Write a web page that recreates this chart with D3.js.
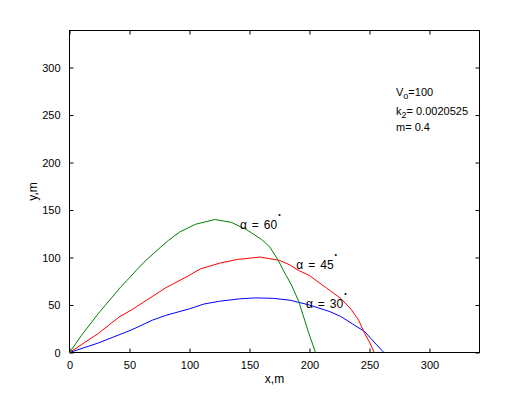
<!DOCTYPE html>
<html><head><meta charset="utf-8">
<script src="https://cdn.jsdelivr.net/npm/d3@7"></script>
<style>body{margin:0;background:#fff}svg{display:block}text{font-family:"Liberation Sans",Arial,sans-serif;white-space:pre}</style>
</head><body>
<svg id="c" width="529" height="397"></svg>
<script>
const xTicks = [0, 50, 100, 150, 200, 250, 300];
const yTicks = [0, 50, 100, 150, 200, 250, 300];
const xDomain = [0, 341.7];
const yDomain = [0, 339];

const x30 = [0, 24, 52, 69, 80, 100, 112, 125, 142, 155, 170, 184, 200, 217, 226, 236, 246, 251, 256, 262];
const y30 = [0, 10, 24, 34, 39, 46, 51, 54, 56.5, 57.5, 57, 55, 50, 43, 38, 30, 22, 15, 8, 0];
const x45 = [0, 24, 42, 52, 80, 98, 109, 125, 140, 159, 175, 184, 190, 200, 214, 226, 235, 241, 246, 250, 254];
const y45 = [0, 20, 38, 45, 68, 80, 88, 94, 98, 100.5, 97, 92, 87, 81, 68, 57, 45, 34, 20, 11, 0];
const x60 = [0, 10, 24, 42, 48, 62, 76, 82.5, 92, 105, 121, 135, 148, 160, 167, 174, 178, 185, 191, 199, 205];
const y60 = [0, 18, 41, 68, 76, 95, 111, 118, 127, 135, 140, 137, 129, 119, 111, 97, 87, 71, 54, 22, 0];

const angles = ["30", "45", "60"];
const labelPos = [[197, 46.5], [189, 88], [142, 129.5]]; // data coords of annotation text
const params = ["100", "0.0020525", "0.4"];

const svg = d3.select("#c");
const L = 69.5, R = 479.5, T = 30.5, B = 352.5;
const x = d3.scaleLinear().domain(xDomain).range([L, R]);
const y = d3.scaleLinear().domain(yDomain).range([B, T]);

// box
svg.append("rect").attr("x", L).attr("y", T).attr("width", R - L).attr("height", B - T)
  .attr("fill", "none").attr("stroke", "#000").attr("stroke-width", 1);

const fs = "11px";
const gx = svg.append("g").attr("transform", `translate(0,${B})`)
  .call(d3.axisBottom(x).tickValues(xTicks).tickSizeInner(-4).tickSizeOuter(0).tickPadding(9).tickFormat(d3.format("d")));
const gxt = svg.append("g").attr("transform", `translate(0,${T})`)
  .call(d3.axisTop(x).tickValues(xTicks).tickSizeInner(-4).tickSizeOuter(0).tickFormat(""));
const gy = svg.append("g").attr("transform", `translate(${L},0)`)
  .call(d3.axisLeft(y).tickValues(yTicks).tickSizeInner(-4).tickSizeOuter(0).tickPadding(9).tickFormat(d3.format("d")));
const gyr = svg.append("g").attr("transform", `translate(${R},0)`)
  .call(d3.axisRight(y).tickValues(yTicks).tickSizeInner(-4).tickSizeOuter(0).tickFormat(""));
[gx, gxt, gy, gyr].forEach(g => {
  g.select(".domain").remove();
  g.selectAll("line").attr("stroke", "#000");
  g.selectAll("text").attr("fill", "#000").style("font-size", fs).style("font-family", "'Liberation Sans',Arial,sans-serif");
});

// curves
const series = [
  {xs: x30, ys: y30, color: "#0000ff"},
  {xs: x45, ys: y45, color: "#ff0000"},
  {xs: x60, ys: y60, color: "#008000"}
];
const line = d3.line().x(d => x(d[0])).y(d => y(d[1]));
series.forEach(s => {
  svg.append("path").datum(s.xs.map((v, i) => [v, s.ys[i]]))
    .attr("d", line).attr("fill", "none").attr("stroke", s.color).attr("stroke-width", 1);
});

// annotations
angles.forEach((a, i) => {
  const t = svg.append("text").attr("x", x(labelPos[i][0])).attr("y", y(labelPos[i][1]))
    .style("font-size", "12px").attr("fill", "#000");
  t.append("tspan").text("α");
  t.append("tspan").attr("dx", 5).text("=");
  t.append("tspan").attr("dx", 5).text(a);
  t.append("tspan").attr("dy", -12).attr("dx", 1).style("font-size", "7px").text("•");
});

// parameter box
const px = 396;
const t1 = svg.append("text").attr("x", px).attr("y", 96).style("font-size", "11px");
t1.append("tspan").text("V");
t1.append("tspan").attr("dy", 3).style("font-size", "9px").text("o");
t1.append("tspan").attr("dy", -3).text("=" + params[0]);
const t2 = svg.append("text").attr("x", px).attr("y", 115).style("font-size", "11px");
t2.append("tspan").text("k");
t2.append("tspan").attr("dy", 3).style("font-size", "9px").text("2");
t2.append("tspan").attr("dy", -3).text("= " + params[1]);
svg.append("text").attr("x", px).attr("y", 131).style("font-size", "11px").text("m= " + params[2]);

// axis labels
svg.append("text").attr("x", (L + R) / 2).attr("y", 383).attr("text-anchor", "middle")
  .style("font-size", "12px").text("x,m");
svg.append("text").attr("transform", `translate(37,${(T + B) / 2}) rotate(-90)`).attr("text-anchor", "middle")
  .style("font-size", "12px").text("y,m");
</script>
</body></html>
